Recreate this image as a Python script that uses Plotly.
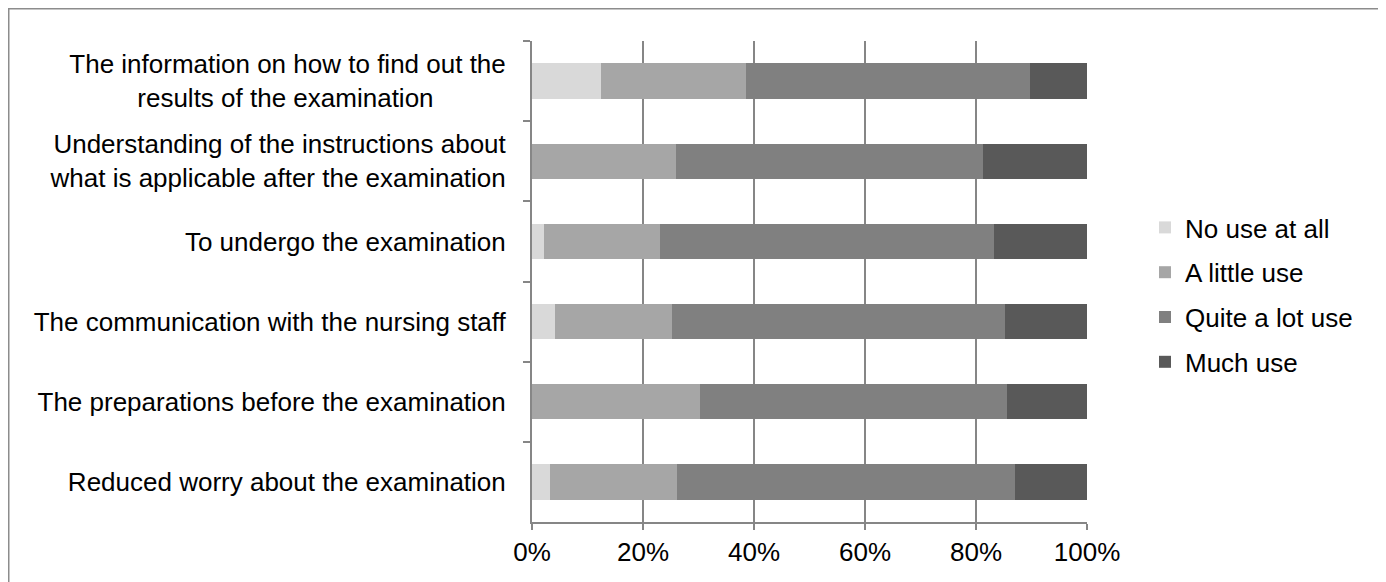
import plotly.graph_objects as go

categories = [
    "The information on how to find out the<br>results of the examination" + "&nbsp;" * 10,
    "Understanding of the instructions about<br>what is applicable after the examination",
    "To undergo the examination",
    "The communication with the nursing staff",
    "The preparations before the examination",
    "Reduced worry about the examination",
]
series_names = ["No use at all", "A little use", "Quite a lot use", "Much use"]
no_use = [12.5, 0.0, 2.1, 4.1, 0.0, 3.2]
little_use = [26.1, 26.0, 21.0, 21.2, 30.2, 23.0]
quite_lot_use = [51.1, 55.3, 60.1, 60.0, 55.3, 60.8]
much_use = [10.3, 18.7, 16.8, 14.7, 14.5, 13.0]
x_tick_vals = [0, 20, 40, 60, 80, 100]
x_tick_text = ["0%", "20%", "40%", "60%", "80%", "100%"]

colors = ["#D9D9D9", "#A6A6A6", "#808080", "#595959"]
values = [no_use, little_use, quite_lot_use, much_use]

fig = go.Figure()
for name, vals, col in zip(series_names, values, colors):
    fig.add_trace(go.Bar(
        y=categories, x=vals, name=name, orientation="h",
        marker=dict(color=col, line=dict(width=0)),
        legendgroup=name,
    ))

# page body has an 8px margin, so the figure is drawn 8px smaller
W, H = 1378, 574
L, R, T, B = 524, 1079, 33, 514
fig.update_layout(
    width=W, height=H,
    barmode="stack", bargap=0.56,
    margin=dict(l=L, r=W - R, t=T, b=H - B, autoexpand=False),
    plot_bgcolor="white", paper_bgcolor="white",
    font=dict(family="Liberation Sans, Arial, sans-serif", size=26, color="black"),
    legend=dict(
        x=(1137 - L) / (R - L), y=(B - 287) / (B - T), xanchor="left", yanchor="middle",
        traceorder="grouped", tracegroupgap=8, font=dict(size=26),
    ),
    xaxis=dict(
        range=[0, 100], tickvals=x_tick_vals, ticktext=x_tick_text,
        showgrid=True, gridcolor="#868686", gridwidth=2,
        zeroline=False, showline=True, linecolor="#868686", linewidth=2,
        ticks="outside", ticklen=6, tickcolor="#868686", tickwidth=2,
        fixedrange=True,
    ),
    yaxis=dict(
        autorange="reversed", showline=True, linecolor="#868686", linewidth=2,
        ticks="outside", ticklen=7, tickcolor="#868686", tickwidth=2,
        tickson="boundaries", showgrid=False, ticklabelstandoff=19,
        fixedrange=True,
    ),
    shapes=[dict(
        type="rect", xref="paper", yref="paper",
        x0=(0.75 - L) / (R - L), x1=(1372 - L) / (R - L),
        y0=(B - 590) / (B - T), y1=(B - 0.75) / (B - T),
        line=dict(color="#8C8C8C", width=1.5), fillcolor="rgba(0,0,0,0)", layer="below",
    )],
)
fig.write_html("out.html")
